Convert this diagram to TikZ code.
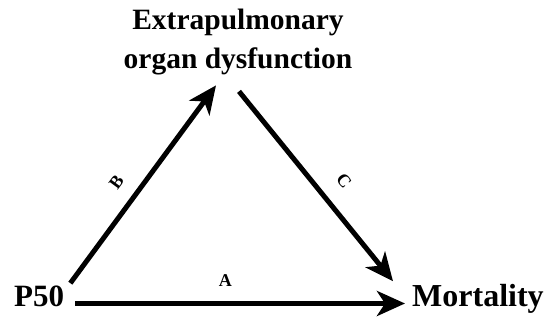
\documentclass[tikz,border=0pt]{standalone}
\usepackage{fontspec}
\setmainfont{Liberation Serif}
\usepackage{tikz}
\usetikzlibrary{arrows.meta, calc}
\tikzset{
  var/.style={inner sep=0pt, font=\fontsize{31}{36}\selectfont\bfseries},
  ttl/.style={inner sep=0pt, align=center, font=\fontsize{29.5}{39}\selectfont\bfseries},
  fl/.style={line width=5pt, -{Stealth[length=28pt, width=25pt, inset=8pt]}},
  lbl/.style={font=\fontsize{18}{20}\selectfont\bfseries, inner sep=2pt}
}

\begin{document}
\begin{tikzpicture}[x=1pt, y=1pt]
\useasboundingbox (0,0) rectangle (547,320);
\node[var, anchor=base west] (p50) at (14,13) {P50};
\node[var, anchor=base west, font=\fontsize{32}{36}\selectfont\bfseries] (mort) at (412,13) {Mortality};
\node[ttl, anchor=north] (organ) at (238,311) {Extrapulmonary\\organ dysfunction};
\draw[fl] ($(p50.base east)+(11pt,3.5pt)$) -- node[lbl, above=12pt, pos=0.455]{A} ($(mort.base west)+(-7pt,3.5pt)$);
\draw[fl] ($(p50.north east)+(6pt,3pt)$) -- node[lbl, sloped, above=12.5pt, pos=0.444]{B} ($(organ.south)+(-22pt,-10pt)$);
\draw[fl] ($(organ.south)+(1pt,-16pt)$) -- node[lbl, sloped, above=14.5pt, pos=0.555]{C} ($(mort.north west)+(-19pt,3.4pt)$);
\end{tikzpicture}
\end{document}
